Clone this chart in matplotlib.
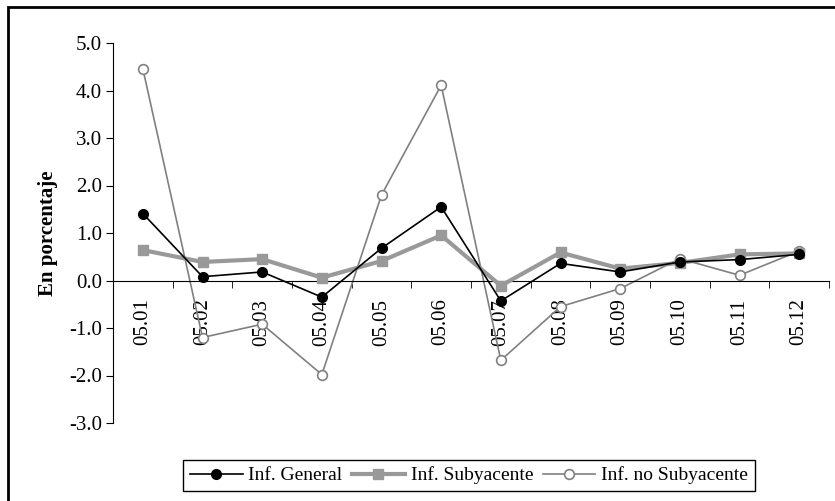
import matplotlib.pyplot as plt
import matplotlib.patches as patches

meses = ["05.01", "05.02", "05.03", "05.04", "05.05", "05.06",
         "05.07", "05.08", "05.09", "05.10", "05.11", "05.12"]
inf_general = [1.41, 0.08, 0.18, -0.35, 0.68, 1.55, -0.43, 0.36, 0.18, 0.39, 0.44, 0.55]
inf_subyacente = [0.64, 0.39, 0.45, 0.06, 0.41, 0.95, -0.11, 0.59, 0.25, 0.37, 0.55, 0.57]
inf_no_subyacente = [4.46, -1.20, -0.92, -1.98, 1.80, 4.11, -1.68, -0.55, -0.17, 0.46, 0.11, 0.62]
yticks = [-3, -2, -1, 0, 1, 2, 3, 4, 5]

plt.rcParams['font.family'] = ['Liberation Serif', 'DejaVu Serif']
plt.rcParams['font.size'] = 15

fig = plt.figure(figsize=(8.35, 5.01), dpi=100)
ax = fig.add_axes([113/835, 1 - 423/501, (829 - 113)/835, (423 - 43)/501])

x = list(range(len(meses)))
ax.plot(x, inf_general, color="black", lw=1.2, marker="o", ms=7,
        label="Inf. General", zorder=4)
ax.plot(x, inf_subyacente, color="#999999", lw=3, marker="s", ms=7,
        label="Inf. Subyacente", zorder=3)
ax.plot(x, inf_no_subyacente, color="#808080", lw=1.2, marker="o", ms=7,
        markerfacecolor="white", markeredgecolor="#808080", markeredgewidth=1.2,
        label="Inf. no Subyacente", zorder=2)

ax.set_xlim(-0.5, len(meses) - 0.5)
ax.set_ylim(-3, 5)
ax.set_yticks(yticks)
ax.set_yticklabels([f"{v:.1f}" for v in yticks])

ax.spines['top'].set_visible(False)
ax.spines['right'].set_visible(False)
ax.spines['bottom'].set_position(('data', 0))

ax.set_xticks(x)
ax.set_xticklabels(meses, rotation=90, va="top")
ax.tick_params(axis="x", which="major", length=0, pad=13)
ax.set_xticks([i - 0.5 for i in range(len(meses) + 1)], minor=True)
ax.tick_params(axis="x", which="minor", length=5, direction="out")
ax.tick_params(axis="y", length=5, direction="out", pad=3)

ax.set_ylabel("En porcentaje", fontweight="bold", labelpad=8)

fig.legend(loc="lower center", bbox_to_anchor=(469/835, 0.0), ncol=3,
           frameon=True, fancybox=False, edgecolor="black", framealpha=1,
           fontsize=14, handlelength=2.7, columnspacing=0.5, handletextpad=0.3,
           borderpad=0.35)

borde = patches.Rectangle((8/835, -0.01), 1, 1 - 7/501 + 0.01,
                          transform=fig.transFigure, fill=False,
                          edgecolor="black", lw=2)
fig.patches.append(borde)

fig.savefig("out.png", dpi=100)
